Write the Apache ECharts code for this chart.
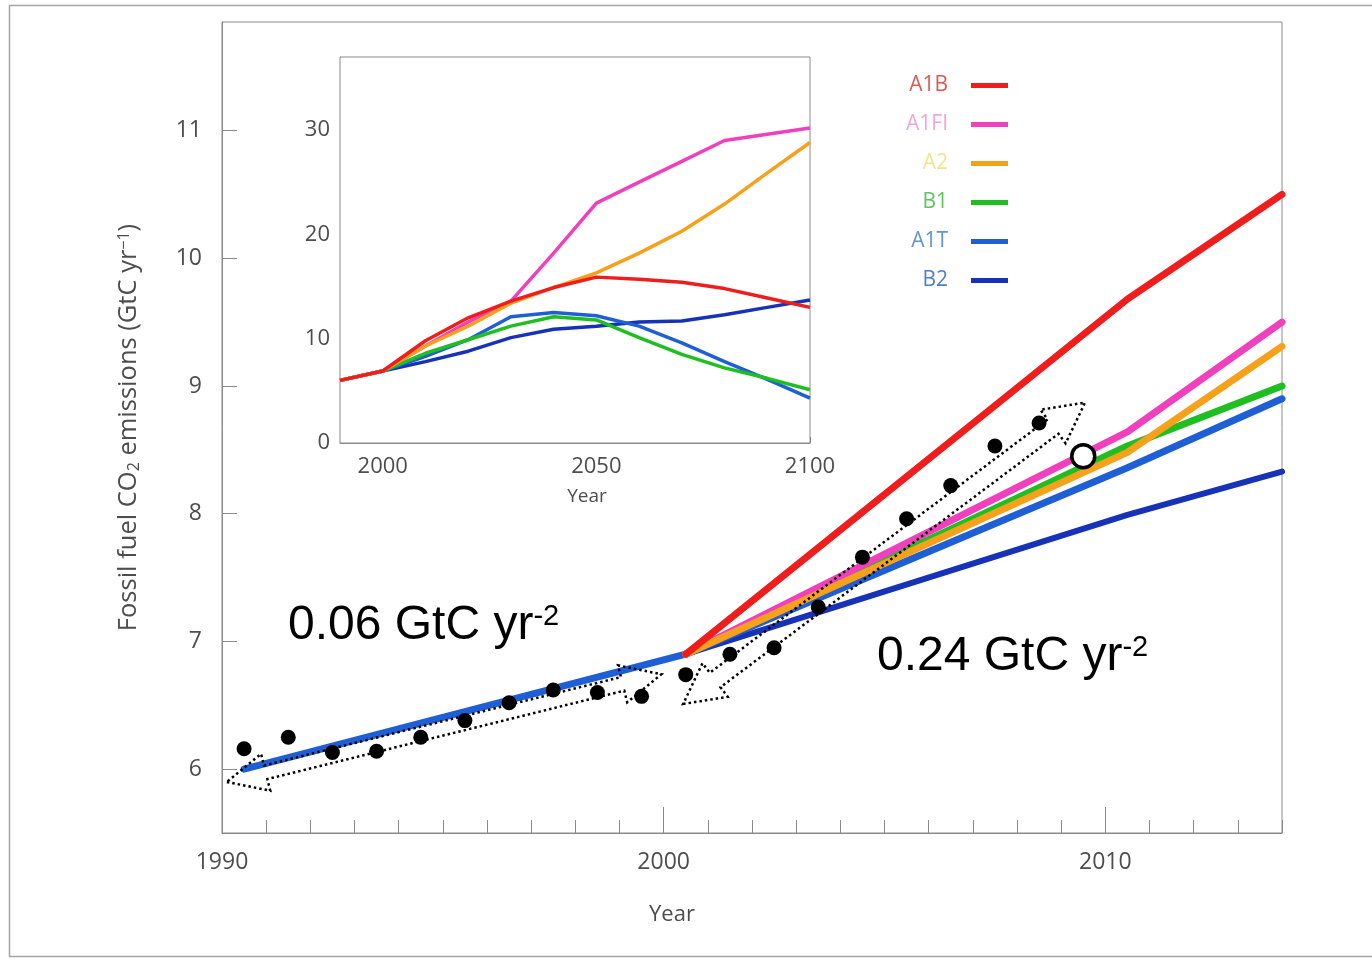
<!DOCTYPE html>
<html>
<head>
<meta charset="utf-8">
<script src="https://cdn.jsdelivr.net/npm/echarts@6/dist/echarts.min.js"></script>
<style>
  html, body { margin: 0; padding: 0; background: #fff; }
  #chart { width: 1372px; height: 960px; }
</style>
</head>
<body>
<div id="chart"></div>
<script>
// ---- Observed fossil-fuel CO2 emissions (GtC per year), mid-year values ----
const obsYears  = [1990.5, 1991.5, 1992.5, 1993.5, 1994.5, 1995.5, 1996.5, 1997.5, 1998.5, 1999.5,
                   2000.5, 2001.5, 2002.5, 2003.5, 2004.5, 2005.5, 2006.5, 2007.5, 2008.5];
const obsValues = [6.16, 6.25, 6.13, 6.14, 6.25, 6.38, 6.52, 6.62, 6.60, 6.57,
                   6.74, 6.90, 6.95, 7.27, 7.66, 7.96, 8.22, 8.53, 8.71];
// Preliminary estimate (open circle)
const prelimYears  = [2009.5];
const prelimValues = [8.45];

// ---- SRES scenarios, main panel ----
const scenarioNames = ['A1B', 'A1FI', 'A2', 'B1', 'A1T', 'B2'];
const historyYears  = [1990.5, 2000.5];
const historyValues = [6.0, 6.9];
const scenarioYears = [2000.5, 2010.5, 2014];
const a1bMain  = [6.9, 9.68, 10.50];
const a1fiMain = [6.9, 8.64, 9.50];
const a2Main   = [6.9, 8.48, 9.31];
const b1Main   = [6.9, 8.53, 9.00];
const a1tMain  = [6.9, 8.36, 8.90];
const b2Main   = [6.9, 7.99, 8.33];

// ---- SRES scenarios to 2100, inset ----
const insetYears = [1990, 2000, 2010, 2020, 2030, 2040, 2050, 2060, 2070, 2080, 2090, 2100];
const a1bInset  = [6.0, 6.9, 9.8, 12.0, 13.6, 14.9, 15.9, 15.7, 15.4, 14.8, 13.9, 13.0];
const a1fiInset = [6.0, 6.9, 9.3, 11.6, 13.6, 18.2, 23.0, 25.0, 27.0, 29.0, 29.6, 30.2];
const a2Inset   = [6.0, 6.9, 9.3, 11.2, 13.4, 14.9, 16.3, 18.2, 20.3, 22.9, 25.9, 28.8];
const b1Inset   = [6.0, 6.9, 8.6, 9.9, 11.2, 12.1, 11.8, 10.1, 8.5, 7.2, 6.2, 5.1];
const a1tInset  = [6.0, 6.9, 8.3, 9.9, 12.1, 12.5, 12.2, 11.2, 9.6, 7.8, 6.1, 4.3];
const b2Inset   = [6.0, 6.9, 7.8, 8.8, 10.1, 10.9, 11.2, 11.6, 11.7, 12.3, 13.0, 13.7];

// ---- Axis tick labels ----
const mainYTicks = [6, 7, 8, 9, 10, 11];
const mainXMajor = [2000, 2010];

// ---- Growth-rate annotations: arrow ends in data units, and their labels ----
const trendArrows = [
  [[1990.11, 5.90], [1999.95, 6.743]],
  [[2000.44, 6.51], [2009.54, 8.87]]
];
const trendLabels = ['0.06 GtC yr', '0.24 GtC yr'];

// styling
const FONT = 'Open Sans';
const GREY = '#4d4d4d';
const AXIS = '#8a8a8a';
const colors = {
  A1B: '#f01d1d', A1FI: '#f040bd', A2: '#f7a11a', B1: '#1fbf22', A1T: '#1f5fd6', B2: '#1632b8'
};
const legendTextColors = {
  A1B: '#dc5a55', A1FI: '#f2a6dc', A2: '#efe590', B1: '#5cc65c', A1T: '#5f94d2', B2: '#4f7fc2'
};

const pair = (xs, ys) => xs.map((x, i) => [x, ys[i]]);

const mainData = { A1B: a1bMain, A1FI: a1fiMain, A2: a2Main, B1: b1Main, A1T: a1tMain, B2: b2Main };
const insetData = { A1B: a1bInset, A1FI: a1fiInset, A2: a2Inset, B1: b1Inset, A1T: a1tInset, B2: b2Inset };
// drawing order (bottom to top)
const drawOrder = ['B2', 'A1T', 'B1', 'A1FI', 'A2', 'A1B'];

const series = [];
drawOrder.forEach((name, k) => {
  let data = pair(scenarioYears, mainData[name]);
  if (name === 'A1T') data = pair(historyYears, historyValues).concat(data.slice(1));
  series.push({
    name, type: 'line', xAxisIndex: 0, yAxisIndex: 0, data,
    symbol: 'none', z: 2 + k * 0.1, silent: true,
    itemStyle: { color: colors[name] },
    lineStyle: { color: colors[name], width: name === 'B2' ? 6 : 7, cap: 'round', join: 'round' }
  });
});
drawOrder.forEach((name, k) => {
  series.push({
    name, type: 'line', xAxisIndex: 2, yAxisIndex: 1, data: pair(insetYears, insetData[name]),
    symbol: 'none', z: 2 + k * 0.1, silent: true,
    itemStyle: { color: colors[name] },
    lineStyle: { color: colors[name], width: 3.5, join: 'round' }
  });
});
series.push({
  name: 'Observed', type: 'scatter', xAxisIndex: 0, yAxisIndex: 0,
  data: pair(obsYears, obsValues), symbolSize: 15, z: 6, silent: true,
  itemStyle: { color: '#000', opacity: 1 }
});
series.push({
  name: 'Preliminary', type: 'scatter', xAxisIndex: 0, yAxisIndex: 0,
  data: pair(prelimYears, prelimValues), symbolSize: 23, z: 6, silent: true,
  itemStyle: { color: '#fff', borderColor: '#000', borderWidth: 3.5, opacity: 1 }
});

const chart = echarts.init(document.getElementById('chart'), null, { renderer: 'canvas' });

const option = {
  animation: false,
  backgroundColor: '#fff',
  textStyle: { fontFamily: FONT },
  grid: [
    { left: 222, top: 22, width: 1060, height: 811, show: true, borderColor: AXIS, borderWidth: 1, z: 0 },
    { left: 340, top: 57, width: 470, height: 386, show: true, borderColor: AXIS, borderWidth: 1, backgroundColor: '#fff', z: 1 }
  ],
  legend: {
    data: scenarioNames.map(n => ({ name: n, textStyle: { color: legendTextColors[n] } })),
    orient: 'vertical', align: 'right', right: 359, top: 70,
    icon: 'rect', itemWidth: 37, itemHeight: 5, itemGap: 18,
    textStyle: { fontSize: 21, fontFamily: FONT, padding: [0, 18, 0, 0] },
    selectedMode: false
  },
  xAxis: [
    {
      type: 'value', gridIndex: 0, position: 'bottom', min: 1990, max: 2014, interval: 1,
      axisLine: { show: true, lineStyle: { color: AXIS, width: 1 } },
      axisTick: { show: true, inside: true, length: 13, lineStyle: { color: AXIS } },
      axisLabel: { formatter: v => (v % 10 === 0 ? String(v) : ''), fontSize: 23, color: GREY, margin: 18, fontFamily: FONT },
      splitLine: { show: false }
    },
    {
      type: 'value', gridIndex: 0, position: 'bottom', min: 1990, max: 2014,
      axisLine: { show: false },
      axisTick: { show: true, inside: true, length: 26, customValues: mainXMajor, lineStyle: { color: AXIS } },
      axisLabel: { show: false },
      splitLine: { show: false }
    },
    {
      type: 'value', gridIndex: 1, position: 'bottom', min: 1990, max: 2100, interval: 10,
      axisLine: { show: true, lineStyle: { color: AXIS } },
      axisTick: { show: true, inside: true, length: 6, lineStyle: { color: AXIS } },
      axisLabel: { formatter: v => (v % 50 === 0 ? String(v) : ''), fontSize: 22, color: GREY, margin: 13, fontFamily: FONT },
      splitLine: { show: false },
      name: 'Year', nameLocation: 'middle', nameGap: 44,
      nameTextStyle: { fontSize: 19, color: GREY, fontFamily: FONT, padding: [0, 0, 0, 24] }
    }
  ],
  yAxis: [
    {
      type: 'value', gridIndex: 0, min: 5.5, max: 11.85,
      axisLine: { show: true, lineStyle: { color: AXIS } },
      axisTick: { show: true, inside: true, length: 15, customValues: mainYTicks, lineStyle: { color: AXIS } },
      axisLabel: { customValues: mainYTicks, fontSize: 23, color: GREY, margin: 20, fontFamily: FONT },
      splitLine: { show: false },
      name: 'Fossil fuel CO{sub|2} emissions (GtC yr{sup|\u22121})',
      nameLocation: 'middle', nameGap: 80, nameRotate: 90,
      nameTextStyle: {
        fontSize: 25.5, color: GREY, fontFamily: FONT,
        rich: {
          sub: { fontSize: 16, color: GREY, fontFamily: FONT, verticalAlign: 'bottom', lineHeight: 16 },
          sup: { fontSize: 16, color: GREY, fontFamily: FONT, verticalAlign: 'top', lineHeight: 16 }
        }
      }
    },
    {
      type: 'value', gridIndex: 1, min: 0, max: 37, interval: 5,
      axisLine: { show: true, lineStyle: { color: AXIS } },
      axisTick: { show: true, inside: true, length: 6, lineStyle: { color: AXIS } },
      axisLabel: { formatter: v => (v % 10 === 0 ? String(v) : ''), fontSize: 22, color: GREY, margin: 10, fontFamily: FONT },
      splitLine: { show: false }
    }
  ],
  series
};

chart.setOption(option);

// Double-headed block arrows with dotted outline, placed along the two trends
function blockArrow(p0, p1, head, headHalf, shaftHalf) {
  const dx = p1[0] - p0[0], dy = p1[1] - p0[1];
  const L = Math.hypot(dx, dy);
  const ux = dx / L, uy = dy / L;
  const nx = -uy, ny = ux;
  const at = (base, along, side) => [base[0] + ux * along + nx * side, base[1] + uy * along + ny * side];
  return [
    p0,
    at(p0, head, headHalf),
    at(p0, head, shaftHalf),
    at(p1, -head, shaftHalf),
    at(p1, -head, headHalf),
    p1,
    at(p1, -head, -headHalf),
    at(p1, -head, -shaftHalf),
    at(p0, head, -shaftHalf),
    at(p0, head, -headHalf)
  ];
}

const finder = { xAxisIndex: 0, yAxisIndex: 0 };
const graphics = [
  {
    type: 'rect', silent: true, z: 0,
    shape: { x: 9.5, y: 5.5, width: 1400, height: 951 },
    style: { fill: 'none', stroke: '#a5a5a5', lineWidth: 1.5 }
  },
  {
    // main x-axis title, centred under the labelled decades
    type: 'text', silent: true, z: 5,
    x: 672, y: 915,
    style: { text: 'Year', fontSize: 22, fontFamily: FONT, fill: GREY, align: 'center', verticalAlign: 'middle' }
  }
];
trendArrows.forEach((seg, i) => {
  const p0 = chart.convertToPixel(finder, seg[0]);
  const p1 = chart.convertToPixel(finder, seg[1]);
  graphics.push({
    type: 'polygon', silent: true, z: 20,
    shape: { points: blockArrow(p0, p1, 40, i === 0 ? 19 : 21, i === 0 ? 7 : 9) },
    style: { fill: 'none', stroke: '#000', lineWidth: 2.5, lineDash: [2.5, 3] }
  });
});
const labelPos = [[288, 602], [877, 633]];
trendLabels.forEach((t, i) => {
  graphics.push({
    type: 'text', silent: true, z: 20,
    left: labelPos[i][0], top: labelPos[i][1],
    style: {
      text: t + '{sup|-2}',
      fontSize: 48, fontFamily: 'Liberation Sans', fill: '#000',
      rich: { sup: { fontSize: 29, fontFamily: 'Liberation Sans', fill: '#000', verticalAlign: 'top', lineHeight: 29 } }
    }
  });
});
chart.setOption({ graphic: graphics });
</script>
</body>
</html>
